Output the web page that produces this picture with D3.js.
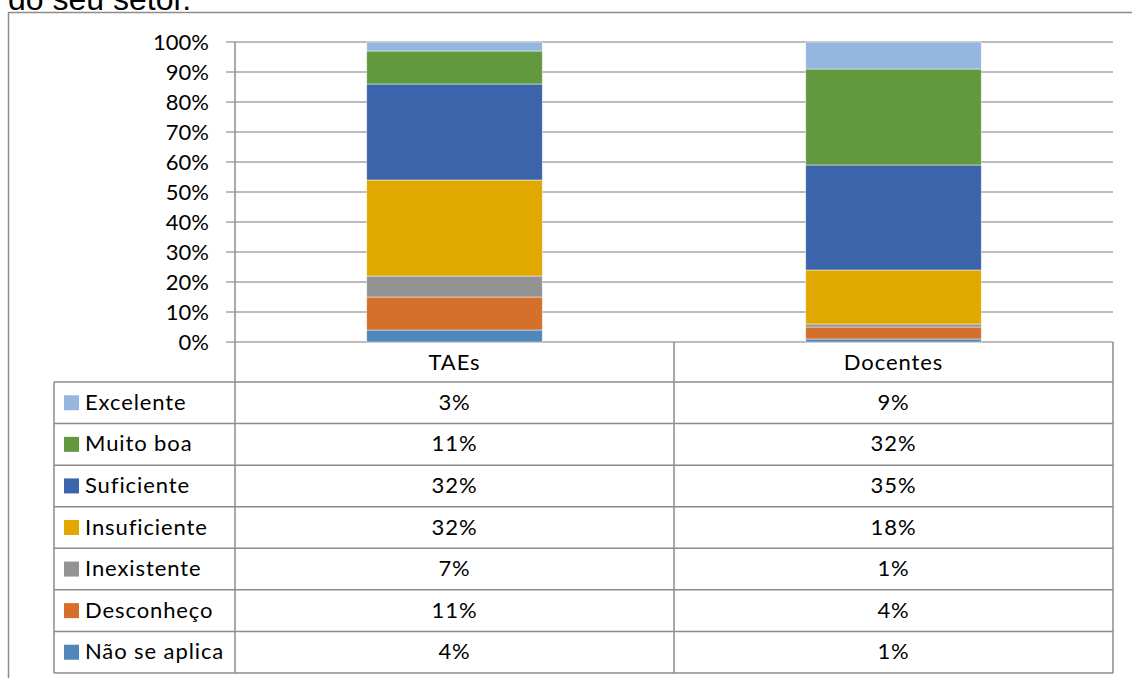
<!DOCTYPE html>
<html>
<head>
<meta charset="utf-8">
<script src="https://cdn.jsdelivr.net/npm/d3@7"></script>
<style>
  html, body { margin: 0; padding: 0; background: #fff; overflow: hidden; }
  svg { display: block; }
</style>
</head>
<body>
<svg id="chart" width="1132" height="678"></svg>
<script>
// Chart data
var categories = ["TAEs", "Docentes"];
var series = ["Não se aplica", "Desconheço", "Inexistente", "Insuficiente", "Suficiente", "Muito boa", "Excelente"];
var taesValues = [4, 11, 7, 32, 32, 11, 3];
var docentesValues = [1, 4, 1, 18, 35, 32, 9];
var seriesColors = ["#4f87bb", "#d46f2c", "#939393", "#e0a800", "#3c64ab", "#62993e", "#95b7df"];

var svg = d3.select("#chart");
var font = "Lato, 'Open Sans', sans-serif";

// Rows for d3.stack
var rows = categories.map(function(c, i) {
    var vals = i === 0 ? taesValues : docentesValues;
    var r = { category: c };
    series.forEach(function(s, j) { r[s] = vals[j]; });
    return r;
});

// Page text cut off above the chart frame
svg.append("text")
    .attr("x", 8)
    .attr("y", 10)
    .style("font-family", "'Liberation Sans', Arial, sans-serif")
    .style("font-size", "32px")
    .style("fill", "#000")
    .text("do seu setor.");

// Outer chart frame
svg.append("rect")
    .attr("x", 8.5).attr("y", 12.5)
    .attr("width", 1140).attr("height", 700)
    .style("fill", "none")
    .style("stroke", "#8c8c8c")
    .style("stroke-width", 1.5);

var plotLeft = 235, plotRight = 1113, plotTop = 42, plotBase = 342;

var y = d3.scaleLinear().domain([0, 100]).range([plotBase, plotTop]);
var x = d3.scaleBand().domain(categories).range([plotLeft, plotRight])
    .paddingInner(0.6).paddingOuter(0.3);
var col = d3.scaleBand().domain(categories).range([plotLeft, plotRight]);
var color = d3.scaleOrdinal().domain(series).range(seriesColors);

// Gridlines + tick labels
var ticks = y.ticks(10);
svg.append("g").selectAll("line").data(ticks).enter().append("line")
    .attr("x1", plotLeft - 9).attr("x2", plotRight)
    .attr("y1", function(d) { return y(d); })
    .attr("y2", function(d) { return y(d); })
    .style("stroke", "#a6a6a6")
    .style("stroke-width", 1.5);

svg.append("g").selectAll("text").data(ticks).enter().append("text")
    .attr("x", 209)
    .attr("y", function(d) { return y(d) + 7.5; })
    .attr("text-anchor", "end")
    .style("font-family", font)
    .style("font-size", "22px")
    .style("fill", "#000")
    .text(function(d) { return d + "%"; });

// Stacked bars
var stacked = d3.stack().keys(series)(rows);
svg.append("g").selectAll("g").data(stacked).enter().append("g")
    .style("fill", function(d) { return color(d.key); })
    .selectAll("rect").data(function(d) { return d; }).enter().append("rect")
    .attr("x", function(d) { return x(d.data.category); })
    .attr("width", x.bandwidth())
    .attr("y", function(d) { return y(d[1]); })
    .attr("height", function(d) { return y(d[0]) - y(d[1]); })
    .style("stroke", "rgba(255,255,255,0.6)")
    .style("stroke-width", 0.8);

// Data table below the plot
var rowH = (673 - 382) / series.length;
var tableTop = 382, tableLeft = 54, tableBottom = 673;
var tableRows = series.slice().reverse();
var lineStyle = function(sel) {
    sel.style("stroke", "#8c8c8c").style("stroke-width", 1.5);
};
var cellText = function(sel) {
    sel.style("font-family", font)
        .style("font-size", "22px")
        .style("letter-spacing", "0.9px")
        .style("fill", "#000");
};
var tg = svg.append("g");

// Vertical lines
tg.append("line").attr("x1", plotLeft).attr("x2", plotLeft).attr("y1", plotTop).attr("y2", tableBottom).call(lineStyle);
tg.append("line").attr("x1", col("Docentes")).attr("x2", col("Docentes")).attr("y1", plotBase).attr("y2", tableBottom).call(lineStyle);
tg.append("line").attr("x1", plotRight).attr("x2", plotRight).attr("y1", plotBase).attr("y2", tableBottom).call(lineStyle);
tg.append("line").attr("x1", tableLeft).attr("x2", tableLeft).attr("y1", tableTop).attr("y2", tableBottom).call(lineStyle);

// Horizontal lines
d3.range(series.length + 1).forEach(function(i) {
    tg.append("line")
        .attr("x1", tableLeft).attr("x2", plotRight)
        .attr("y1", tableTop + i * rowH).attr("y2", tableTop + i * rowH)
        .call(lineStyle);
});

// Header
tg.selectAll("text.head").data(categories).enter().append("text")
    .attr("class", "head")
    .attr("x", function(d) { return col(d) + col.bandwidth() / 2; })
    .attr("y", 370)
    .attr("text-anchor", "middle")
    .call(cellText)
    .text(function(d) { return d; });

// Rows
tableRows.forEach(function(s, i) {
    var cy = tableTop + i * rowH + rowH / 2;
    tg.append("rect")
        .attr("x", 64).attr("y", cy - 7.5)
        .attr("width", 15).attr("height", 15)
        .style("fill", color(s));
    tg.append("text")
        .attr("x", 85).attr("y", cy + 7)
        .call(cellText)
        .text(s);
    rows.forEach(function(r) {
        tg.append("text")
            .attr("x", col(r.category) + col.bandwidth() / 2)
            .attr("y", cy + 7)
            .attr("text-anchor", "middle")
            .call(cellText)
            .text(r[s] + "%");
    });
});
</script>
</body>
</html>
